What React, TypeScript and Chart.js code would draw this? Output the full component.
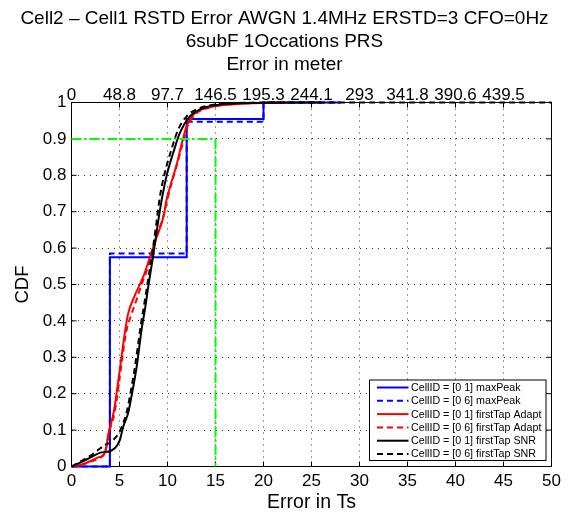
import React, { useEffect, useRef } from 'react';
import { Chart, registerables } from 'chart.js';

Chart.register(...registerables);

const TITLE_LINES = ['Cell2 – Cell1 RSTD Error AWGN 1.4MHz ERSTD=3 CFO=0Hz', '6subF 1Occations PRS', 'Error in meter'];
const X_AXIS_TITLE = 'Error in Ts';
const Y_AXIS_TITLE = 'CDF';
const TOP_TICK_LABELS = ['0', '48.8', '97.7', '146.5', '195.3', '244.1', '293', '341.8', '390.6', '439.5', ''];
const X_TICK_LABELS = ['0', '5', '10', '15', '20', '25', '30', '35', '40', '45', '50'];
const Y_TICK_LABELS = ['0', '0.1', '0.2', '0.3', '0.4', '0.5', '0.6', '0.7', '0.8', '0.9', '1'];

const SERIES_LABELS = [
  'CellID = [0 1] maxPeak',
  'CellID = [0 6] maxPeak',
  'CellID = [0 1] firstTap Adapt',
  'CellID = [0 6] firstTap Adapt',
  'CellID = [0 1] firstTap SNR',
  'CellID = [0 6] firstTap SNR',
];

// maxPeak (step CDFs)
const maxPeak01X = [0, 4, 4, 12, 12, 20, 20, 28];
const maxPeak01Y = [0, 0, 0.575, 0.575, 0.955, 0.955, 1, 1];
const maxPeak06X = [0, 4, 4, 12, 12, 20, 20, 28];
const maxPeak06Y = [0, 0, 0.585, 0.585, 0.947, 0.947, 1, 1];

// firstTap Adapt
const adapt01X = [0, 1, 2, 2.8, 3.3, 3.6, 3.8, 4.4, 4.9, 5.2, 5.6, 5.9, 6.6, 7.2, 7.6, 8.2, 8.9, 9.6, 9.9, 10.4, 11.0, 11.5, 12.0, 12.7, 14.1, 16.2, 22];
const adapt01Y = [0, 0.005, 0.015, 0.025, 0.03, 0.05, 0.085, 0.15, 0.24, 0.3, 0.375, 0.42, 0.47, 0.505, 0.53, 0.578, 0.633, 0.688, 0.733, 0.78, 0.834, 0.889, 0.935, 0.967, 0.985, 0.994, 1];
const adapt06X = [0, 1, 2, 2.8, 3.4, 3.7, 3.9, 4.5, 5.0, 5.3, 5.7, 6.2, 6.8, 7.3, 7.8, 8.3, 9.0, 9.6, 10.0, 10.5, 11.1, 11.6, 12.1, 12.8, 14.2, 16.5, 22];
const adapt06Y = [0, 0.004, 0.013, 0.022, 0.035, 0.06, 0.09, 0.15, 0.24, 0.3, 0.37, 0.415, 0.46, 0.5, 0.535, 0.58, 0.64, 0.69, 0.735, 0.785, 0.84, 0.89, 0.935, 0.965, 0.985, 0.995, 1];

// firstTap SNR
const snr01X = [0, 1, 2, 3, 3.5, 4.0, 4.5, 4.8, 5.05, 5.4, 5.9, 6.3, 6.8, 7.3, 7.7, 8.0, 8.5, 8.9, 9.4, 9.9, 10.6, 11.3, 12.2, 13.4, 14.8, 17, 26];
const snr01Y = [0, 0.012, 0.025, 0.038, 0.04, 0.042, 0.05, 0.06, 0.074, 0.11, 0.147, 0.2, 0.276, 0.376, 0.44, 0.495, 0.578, 0.651, 0.733, 0.798, 0.862, 0.917, 0.958, 0.981, 0.992, 0.998, 1];
const snr06X = [0, 1, 2, 3, 3.5, 4.0, 4.6, 5.0, 5.4, 5.8, 6.2, 6.7, 7.2, 7.6, 7.9, 8.4, 8.8, 9.2, 9.7, 10.4, 11.1, 12.0, 13.2, 14.6, 17, 22, 50];
const snr06Y = [0, 0.015, 0.03, 0.05, 0.06, 0.065, 0.08, 0.095, 0.12, 0.155, 0.21, 0.29, 0.385, 0.45, 0.5, 0.585, 0.66, 0.74, 0.805, 0.87, 0.925, 0.962, 0.983, 0.993, 0.998, 1, 1];

// 90% / 15 Ts reference line
const refX = [0, 15, 15];
const refY = [0.9, 0.9, 0];

const FONT = '"Liberation Sans", Arial, Helvetica, sans-serif';

const toPts = (xs: number[], ys: number[]) => xs.map((x, i) => ({ x, y: ys[i] }));

const framePlugin = {
  id: 'matlabFrame',
  beforeDatasetsDraw(chart: any) {
    const { ctx, chartArea, scales } = chart;
    const { left, right, top, bottom } = chartArea;
    ctx.save();
    ctx.strokeStyle = '#000';
    ctx.lineWidth = 1;
    ctx.setLineDash([]);
    ctx.strokeRect(left, top, right - left, bottom - top);
    const TL = 5;
    ctx.beginPath();
    scales.x.ticks.forEach((t: any) => {
      const px = scales.x.getPixelForValue(t.value);
      ctx.moveTo(px, bottom);
      ctx.lineTo(px, bottom - TL);
      ctx.moveTo(px, top);
      ctx.lineTo(px, top + TL);
    });
    scales.y.ticks.forEach((t: any) => {
      const py = scales.y.getPixelForValue(t.value);
      ctx.moveTo(left, py);
      ctx.lineTo(left + TL, py);
      ctx.moveTo(right, py);
      ctx.lineTo(right - TL, py);
    });
    ctx.stroke();
    ctx.restore();
  },
};

const legendPlugin = {
  id: 'boxLegend',
  afterDatasetsDraw(chart: any) {
    const { ctx, chartArea } = chart;
    const w = 176.5;
    const h = 80.5;
    const x0 = chartArea.right - 5.5 - w;
    const y0 = chartArea.bottom - 6 - h;
    ctx.save();
    ctx.fillStyle = '#fff';
    ctx.fillRect(x0, y0, w, h);
    ctx.strokeStyle = '#000';
    ctx.lineWidth = 1;
    ctx.setLineDash([]);
    ctx.strokeRect(x0, y0, w, h);
    ctx.font = `10.7px ${FONT}`;
    ctx.textBaseline = 'middle';
    ctx.textAlign = 'left';
    const items = chart.data.datasets.filter((d: any) => d.label);
    items.forEach((d: any, i: number) => {
      const y = y0 + 7.5 + i * 13.3;
      ctx.strokeStyle = d.borderColor;
      ctx.lineWidth = 2;
      ctx.setLineDash(d.borderDash || []);
      ctx.beginPath();
      ctx.moveTo(x0 + 7.5, y);
      ctx.lineTo(x0 + 39, y);
      ctx.stroke();
      ctx.setLineDash([]);
      ctx.fillStyle = '#000';
      ctx.fillText(d.label, x0 + 41.5, y + 0.5);
    });
    ctx.restore();
  },
};

export default function App() {
  const canvasRef = useRef<HTMLCanvasElement | null>(null);

  useEffect(() => {
    if (!canvasRef.current) return;
    Chart.defaults.font.family = FONT;
    Chart.defaults.color = '#000';
    const common = { pointRadius: 0, pointHoverRadius: 0, borderWidth: 2, clip: false as any, fill: false };
    const chart = new Chart(canvasRef.current, {
      type: 'line',
      data: {
        datasets: [
          { ...common, label: SERIES_LABELS[0], data: toPts(maxPeak01X, maxPeak01Y), borderColor: '#0000ff', borderDash: [], tension: 0, order: 6 },
          { ...common, label: SERIES_LABELS[1], data: toPts(maxPeak06X, maxPeak06Y), borderColor: '#0000ff', borderDash: [6, 4], tension: 0, order: 5 },
          { ...common, label: SERIES_LABELS[2], data: toPts(adapt01X, adapt01Y), borderColor: '#ff0000', borderDash: [], cubicInterpolationMode: 'monotone', order: 4 },
          { ...common, label: SERIES_LABELS[3], data: toPts(adapt06X, adapt06Y), borderColor: '#ff0000', borderDash: [6, 4], cubicInterpolationMode: 'monotone', order: 3 },
          { ...common, label: SERIES_LABELS[4], data: toPts(snr01X, snr01Y), borderColor: '#000000', borderDash: [], cubicInterpolationMode: 'monotone', order: 2 },
          { ...common, label: SERIES_LABELS[5], data: toPts(snr06X, snr06Y), borderColor: '#000000', borderDash: [6, 4], cubicInterpolationMode: 'monotone', order: 1 },
          { ...common, label: '', data: toPts(refX, refY), borderColor: '#00ff00', borderWidth: 2, borderDash: [10, 3, 2, 3], tension: 0, order: 0 },
        ] as any,
      },
      options: {
        responsive: false,
        animation: false,
        events: [],
        layout: { padding: 0 },
        plugins: {
          legend: { display: false },
          tooltip: { enabled: false },
          title: {
            display: true,
            text: TITLE_LINES,
            color: '#000',
            font: { size: 19, weight: 'normal', lineHeight: 22.8 / 19 },
            padding: { top: 7.4, bottom: 0 },
          },
        },
        scales: {
          x: {
            type: 'linear',
            position: 'bottom',
            min: 0,
            max: 50,
            ticks: {
              stepSize: 5,
              color: '#000',
              font: { size: 17 },
              padding: 5,
              maxRotation: 0,
              autoSkip: false,
              callback: (_v: any, i: number) => X_TICK_LABELS[i] ?? '',
            },
            grid: { color: '#333', lineWidth: 1, drawTicks: false },
            border: { display: false, dash: [1, 5] },
            title: { display: true, text: X_AXIS_TITLE, color: '#000', font: { size: 19.5 }, padding: { top: 0, bottom: 1 } },
            afterFit: (s: any) => { s.height = 48.5; },
          },
          x2: {
            type: 'linear',
            position: 'top',
            min: 0,
            max: 50,
            ticks: {
              stepSize: 5,
              color: '#000',
              font: { size: 17 },
              padding: -3,
              maxRotation: 0,
              autoSkip: false,
              callback: (_v: any, i: number) => TOP_TICK_LABELS[i] ?? '',
            },
            grid: { display: false, drawTicks: false },
            border: { display: false },
            afterFit: (s: any) => { s.height = 102.5 - 75.8; },
          },
          y: {
            type: 'linear',
            position: 'left',
            min: 0,
            max: 1,
            ticks: {
              stepSize: 0.1,
              color: '#000',
              font: { size: 17 },
              padding: 5,
              callback: (_v: any, i: number) => Y_TICK_LABELS[i] ?? '',
            },
            grid: { color: '#333', lineWidth: 1, drawTicks: false },
            border: { display: false, dash: [1, 5] },
            title: { display: true, text: Y_AXIS_TITLE, color: '#000', font: { size: 18.5 }, padding: { top: 12, bottom: 0 } },
            afterFit: (s: any) => { s.width = 71.5; },
          },
          yR: {
            type: 'linear',
            position: 'right',
            display: true,
            min: 0,
            max: 1,
            ticks: { display: false },
            grid: { display: false, drawTicks: false },
            border: { display: false },
            afterFit: (s: any) => { s.width = 17.5; },
          },
        },
      } as any,
      plugins: [framePlugin, legendPlugin],
    });
    return () => chart.destroy();
  }, []);

  return (
    <div style={{ position: 'absolute', left: 0, top: 0, width: 569, height: 515, background: '#fff' }}>
      <canvas ref={canvasRef} width={569} height={515} style={{ display: 'block' }} />
    </div>
  );
}
